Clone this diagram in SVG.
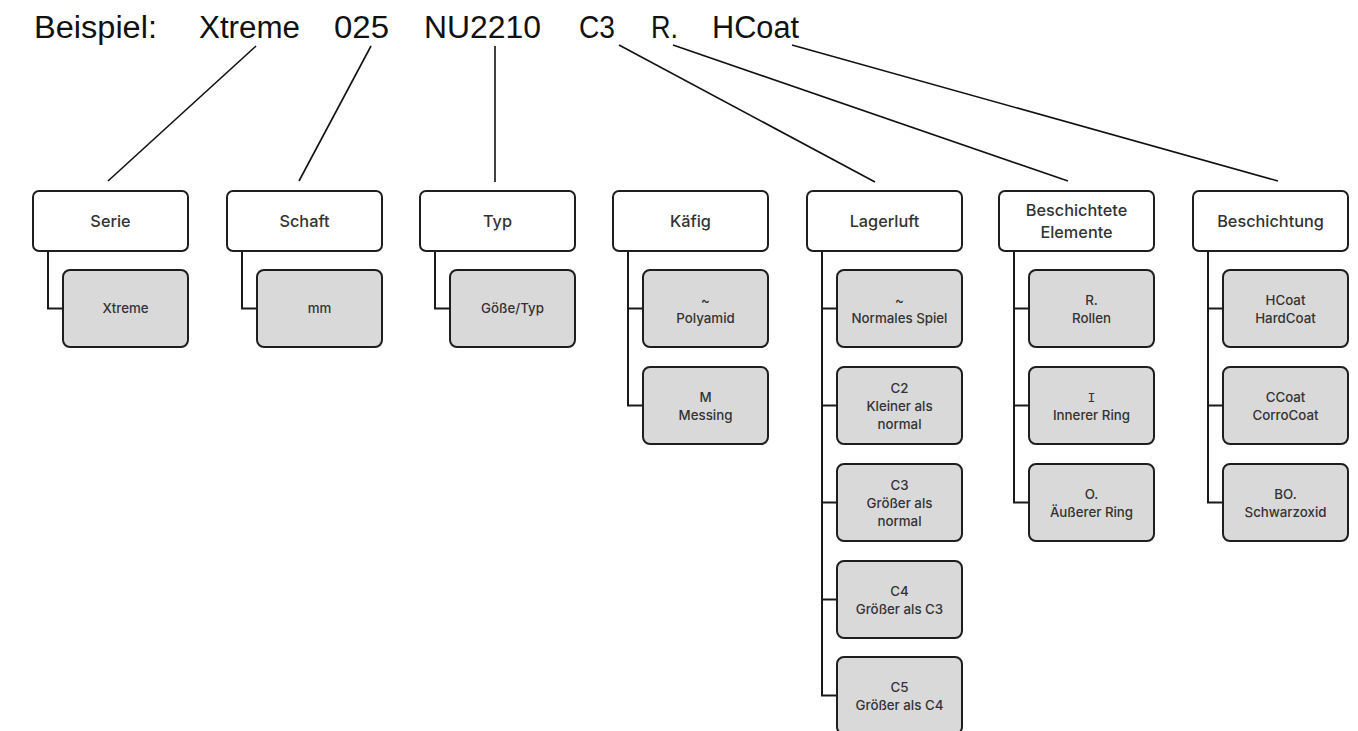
<svg xmlns="http://www.w3.org/2000/svg" width="1358" height="731" viewBox="0 0 1358 731">
<style>
.title{font-family:"Liberation Sans",Arial,sans-serif;font-size:31px;fill:#111}
.hdr{fill:#fff;stroke:#1e1e1e;stroke-width:2}
.chd{fill:#d9d9d9;stroke:#1e1e1e;stroke-width:2}
.ht{font-family:Inter,"Liberation Sans",sans-serif;font-weight:500;font-size:16.3px;fill:#333;text-anchor:middle}
.ct{font-family:Inter,"Liberation Sans",sans-serif;font-weight:500;font-size:13.3px;fill:#333;text-anchor:middle}
.lead{stroke:#111;stroke-width:1.6;fill:none}
.tree{stroke:#1a1a1a;stroke-width:2;fill:none}
.mono{font-family:"Liberation Mono","DejaVu Sans Mono",monospace;font-weight:400}
</style>
<rect width="1358" height="731" fill="#fff"/>
<g id="title">
<text class="title" x="34" y="38" textLength="123" lengthAdjust="spacingAndGlyphs">Beispiel:</text>
<text class="title" x="199" y="38" textLength="101" lengthAdjust="spacingAndGlyphs">Xtreme</text>
<text class="title" x="334" y="38" textLength="55" lengthAdjust="spacingAndGlyphs">025</text>
<text class="title" x="424" y="38" textLength="117" lengthAdjust="spacingAndGlyphs">NU2210</text>
<text class="title" x="579" y="38" textLength="36" lengthAdjust="spacingAndGlyphs">C3</text>
<text class="title" x="651" y="38" textLength="27" lengthAdjust="spacingAndGlyphs">R.</text>
<text class="title" x="712" y="38" textLength="87" lengthAdjust="spacingAndGlyphs">HCoat</text>
</g>
<g id="connectors">
<line class="lead" x1="256" y1="46" x2="108" y2="181"/>
<line class="lead" x1="371" y1="46" x2="299" y2="181"/>
<line class="lead" x1="495" y1="46" x2="495" y2="182"/>
<line class="lead" x1="619" y1="45" x2="875" y2="182"/>
<line class="lead" x1="673" y1="45" x2="1068" y2="181"/>
<line class="lead" x1="792" y1="45" x2="1278" y2="181"/>
<path class="tree" d="M48,251 V308.5 H63"/>
<path class="tree" d="M242,251 V308.5 H257"/>
<path class="tree" d="M435,251 V308.5 H450"/>
<path class="tree" d="M628,251 V405.5 H643 M628,308.5 H643"/>
<path class="tree" d="M822,251 V695.5 H837 M822,308.5 H837 M822,405.5 H837 M822,502.5 H837 M822,599.5 H837"/>
<path class="tree" d="M1014,251 V502.5 H1029 M1014,308.5 H1029 M1014,405.5 H1029"/>
<path class="tree" d="M1208,251 V502.5 H1223 M1208,308.5 H1223 M1208,405.5 H1223"/>
</g>
<g id="serie">
<rect class="hdr" x="33" y="191" width="155" height="60" rx="6"/>
<text class="ht" x="110.5" y="227">Serie</text>
</g>
<g id="serie-xtreme">
<rect class="chd" x="63" y="270" width="125" height="77" rx="7"/>
<text class="ct" x="125.5" y="313">Xtreme</text>
</g>
<g id="schaft">
<rect class="hdr" x="227" y="191" width="155" height="60" rx="6"/>
<text class="ht" x="304.5" y="227">Schaft</text>
</g>
<g id="schaft-mm">
<rect class="chd" x="257" y="270" width="125" height="77" rx="7"/>
<text class="ct" x="319.5" y="313">mm</text>
</g>
<g id="typ">
<rect class="hdr" x="420" y="191" width="155" height="60" rx="6"/>
<text class="ht" x="497.5" y="227">Typ</text>
</g>
<g id="typ-groesse">
<rect class="chd" x="450" y="270" width="125" height="77" rx="7"/>
<text class="ct" x="512.5" y="313">Göße/Typ</text>
</g>
<g id="kaefig">
<rect class="hdr" x="613" y="191" width="155" height="60" rx="6"/>
<text class="ht" x="690.5" y="227">Käfig</text>
</g>
<g id="kaefig-polyamid">
<rect class="chd" x="643" y="270" width="125" height="77" rx="7"/>
<text class="ct" x="705.5" y="304.5">~</text>
<text class="ct" x="705.5" y="323">Polyamid</text>
</g>
<g id="kaefig-messing">
<rect class="chd" x="643" y="367" width="125" height="77" rx="7"/>
<text class="ct" x="705.5" y="401.5">M</text>
<text class="ct" x="705.5" y="420">Messing</text>
</g>
<g id="lagerluft">
<rect class="hdr" x="807" y="191" width="155" height="60" rx="6"/>
<text class="ht" x="884.5" y="227">Lagerluft</text>
</g>
<g id="lagerluft-normal">
<rect class="chd" x="837" y="270" width="125" height="77" rx="7"/>
<text class="ct" x="899.5" y="304.5">~</text>
<text class="ct" x="899.5" y="323">Normales Spiel</text>
</g>
<g id="lagerluft-c2">
<rect class="chd" x="837" y="367" width="125" height="77" rx="7"/>
<text class="ct" x="899.5" y="393">C2</text>
<text class="ct" x="899.5" y="411">Kleiner als</text>
<text class="ct" x="899.5" y="429">normal</text>
</g>
<g id="lagerluft-c3">
<rect class="chd" x="837" y="464" width="125" height="77" rx="7"/>
<text class="ct" x="899.5" y="490">C3</text>
<text class="ct" x="899.5" y="508">Größer als</text>
<text class="ct" x="899.5" y="526">normal</text>
</g>
<g id="lagerluft-c4">
<rect class="chd" x="837" y="561" width="125" height="77" rx="7"/>
<text class="ct" x="899.5" y="595.5">C4</text>
<text class="ct" x="899.5" y="614">Größer als C3</text>
</g>
<g id="lagerluft-c5">
<rect class="chd" x="837" y="657" width="125" height="77" rx="7"/>
<text class="ct" x="899.5" y="691.5">C5</text>
<text class="ct" x="899.5" y="710">Größer als C4</text>
</g>
<g id="beschichtete-elemente">
<rect class="hdr" x="999" y="191" width="155" height="60" rx="6"/>
<text class="ht" x="1076.5" y="216">Beschichtete</text>
<text class="ht" x="1076.5" y="238">Elemente</text>
</g>
<g id="elemente-rollen">
<rect class="chd" x="1029" y="270" width="125" height="77" rx="7"/>
<text class="ct" x="1091.5" y="304.5">R.</text>
<text class="ct" x="1091.5" y="323">Rollen</text>
</g>
<g id="elemente-innen">
<rect class="chd" x="1029" y="367" width="125" height="77" rx="7"/>
<text class="ct mono" x="1091.5" y="401.5">I</text>
<text class="ct" x="1091.5" y="420">Innerer Ring</text>
</g>
<g id="elemente-aussen">
<rect class="chd" x="1029" y="464" width="125" height="77" rx="7"/>
<text class="ct" x="1091.5" y="498.5">O.</text>
<text class="ct" x="1091.5" y="517">Äußerer Ring</text>
</g>
<g id="beschichtung">
<rect class="hdr" x="1193" y="191" width="155" height="60" rx="6"/>
<text class="ht" x="1270.5" y="227">Beschichtung</text>
</g>
<g id="beschichtung-hcoat">
<rect class="chd" x="1223" y="270" width="125" height="77" rx="7"/>
<text class="ct" x="1285.5" y="304.5">HCoat</text>
<text class="ct" x="1285.5" y="323">HardCoat</text>
</g>
<g id="beschichtung-ccoat">
<rect class="chd" x="1223" y="367" width="125" height="77" rx="7"/>
<text class="ct" x="1285.5" y="401.5">CCoat</text>
<text class="ct" x="1285.5" y="420">CorroCoat</text>
</g>
<g id="beschichtung-bo">
<rect class="chd" x="1223" y="464" width="125" height="77" rx="7"/>
<text class="ct" x="1285.5" y="498.5">BO.</text>
<text class="ct" x="1285.5" y="517">Schwarzoxid</text>
</g>
</svg>
